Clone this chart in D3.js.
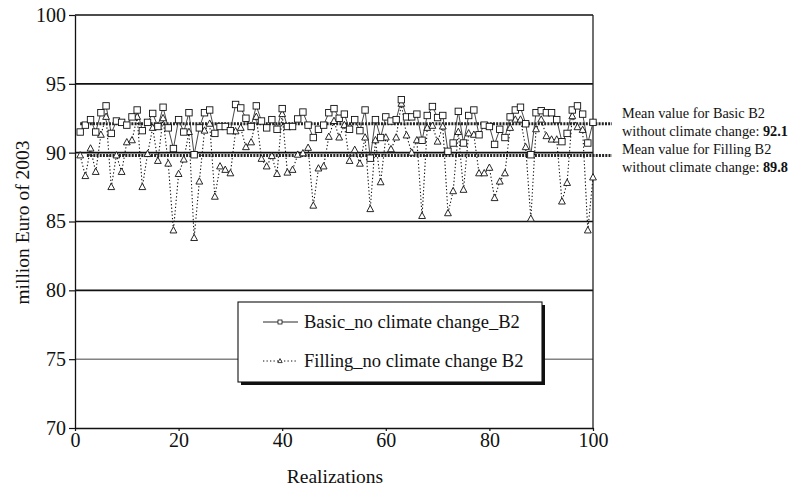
<!DOCTYPE html>
<html>
<head>
<meta charset="utf-8">
<script src="https://cdn.jsdelivr.net/npm/d3@7"></script>
<style>
  html, body { margin: 0; padding: 0; background: #fff; }
</style>
</head>
<body>
<svg id="chart" width="810" height="490"></svg>
<script>
// Realization index 1..100
const realizations = d3.range(1, 101);

// Total cost, million Euro of 2003 — Basic scenario without climate change (B2)
const basicValues = [
  91.5, 92.0, 92.4, 91.5, 92.9, 93.4, 91.4, 92.3, 92.2, 92.0,
  92.6, 93.1, 91.6, 92.2, 92.85, 91.9, 93.3, 91.8, 90.3, 92.4,
  91.5, 92.9, 89.85, 91.8, 92.9, 93.1, 91.4, 91.9, 91.9, 91.6,
  93.5, 93.25, 92.5, 91.9, 93.4, 92.3, 91.8, 92.4, 91.7, 93.2,
  91.9, 91.9, 92.45, 92.95, 92.0, 91.1, 91.7, 92.0, 92.9, 93.2,
  92.5, 92.8, 91.7, 92.4, 91.6, 93.1, 89.6, 92.4, 91.1, 92.6,
  92.3, 92.4, 93.85, 92.6, 92.6, 92.8, 90.9, 92.7, 93.35, 92.55,
  92.7, 90.1, 90.7, 93.0, 90.7, 92.7, 93.1, 91.3, 92.0, 91.9,
  90.6, 91.7, 91.1, 92.6, 93.1, 93.3, 92.1, 89.85, 92.9, 93.05,
  92.9, 92.9, 92.4, 90.8, 91.4, 93.1, 93.4, 92.8, 90.7, 92.2
];

// Filling scenario without climate change (B2)
const fillingValues = [
  89.8, 88.3, 90.3, 88.6, 91.3, 92.6, 87.5, 89.8, 88.6, 90.75,
  90.9, 92.6, 87.5, 89.9, 91.8, 89.4, 92.5, 89.2, 84.35, 88.45,
  89.5, 91.5, 83.8, 87.9, 91.6, 92.1, 86.8, 89.0, 88.75, 88.5,
  91.55, 91.8, 90.4, 90.75, 92.6, 89.55, 89.0, 89.75, 88.45, 92.8,
  88.55, 88.75, 89.85, 89.95, 90.35, 86.15, 88.85, 89.0, 91.15, 92.3,
  91.1, 92.0, 89.4, 90.2, 89.2, 91.1, 85.9, 90.9, 87.85, 91.1,
  90.25, 91.1, 93.55, 91.25, 90.0, 90.9, 85.4, 91.8, 91.95, 90.8,
  91.9, 85.6, 87.2, 91.5, 87.3, 91.4, 91.3, 88.5, 88.5, 88.9,
  86.7, 87.9, 88.5, 91.8, 92.4, 92.4, 90.4, 85.2, 91.7, 92.4,
  91.2, 90.95, 90.95, 86.45, 87.8, 92.65, 91.85, 91.65, 84.35, 88.2
];

// Mean values over all realizations
const meanBasic = 92.1;
const meanFilling = 89.8;

const seriesNames = ["Basic_no climate change_B2", "Filling_no climate change B2"];
const xTicks = [0, 20, 40, 60, 80, 100];
const yTicks = [70, 75, 80, 85, 90, 95, 100];

(function draw() {
  const serif = "'Liberation Serif', 'DejaVu Serif', 'Times New Roman', Times, serif";
  const svg = d3.select("#chart");
  const plotLeft = 75, plotRight = 593, plotTop = 15, plotBottom = 428;

  const x = d3.scaleLinear().domain([0, 100]).range([plotLeft, plotRight]);
  const y = d3.scaleLinear().domain([70, 100]).range([plotBottom, plotTop]);

  // Horizontal grid lines
  svg.append("g").selectAll("line")
    .data(yTicks.filter(v => v > 70))
    .join("line")
    .attr("x1", plotLeft).attr("x2", plotRight)
    .attr("y1", d => y(d)).attr("y2", d => y(d))
    .attr("stroke", d => d === 75 ? "#444" : "#111")
    .attr("stroke-width", d => d === 75 ? 1 : 1.6);

  // Right border of the plot area
  svg.append("line")
    .attr("x1", plotRight).attr("x2", plotRight).attr("y1", plotTop).attr("y2", plotBottom)
    .attr("stroke", "#222").attr("stroke-width", 1.3);

  // Axes
  const yAxis = d3.axisLeft(y).tickValues(yTicks).tickSize(6).tickSizeOuter(0).tickPadding(3);
  const gy = svg.append("g").attr("transform", `translate(${plotLeft},0)`).call(yAxis)
    .attr("font-family", serif).attr("font-size", 20);
  gy.select(".domain").attr("stroke", "#111").attr("stroke-width", 1.3);
  gy.selectAll(".tick line").attr("stroke", "#111").attr("stroke-width", 1.2);
  gy.selectAll(".tick text").attr("fill", "#111");

  const xAxis = d3.axisBottom(x).tickValues(xTicks).tickSize(3).tickSizeOuter(0).tickPadding(2);
  const gx = svg.append("g").attr("transform", `translate(0,${plotBottom})`).call(xAxis)
    .attr("font-family", serif).attr("font-size", 20);
  gx.select(".domain").attr("stroke", "#111").attr("stroke-width", 1.3);
  gx.selectAll(".tick line").attr("stroke", "#111").attr("stroke-width", 1.2);
  gx.selectAll(".tick text").attr("fill", "#111");

  // Axis titles
  svg.append("text")
    .attr("x", (plotLeft + plotRight) / 2 + 1).attr("y", 483)
    .attr("text-anchor", "middle").attr("font-size", 19.5)
    .attr("font-family", serif).attr("fill", "#111")
    .text("Realizations");
  svg.append("text")
    .attr("transform", `translate(29,${(plotTop + plotBottom) / 2 + 1}) rotate(-90)`)
    .attr("text-anchor", "middle").attr("font-size", 19.5)
    .attr("font-family", serif).attr("fill", "#111")
    .text("million Euro of 2003");

  // Mean lines (extend past the plot towards the annotations)
  const meanEnd = x.invert(612);
  svg.append("line")
    .attr("x1", x(1)).attr("x2", x(meanEnd))
    .attr("y1", y(meanBasic)).attr("y2", y(meanBasic))
    .attr("stroke", "#222").attr("stroke-width", 3).attr("stroke-dasharray", "2,1.2");
  svg.append("line")
    .attr("x1", x(2.3)).attr("x2", x(meanEnd))
    .attr("y1", y(meanFilling)).attr("y2", y(meanFilling))
    .attr("stroke", "#222").attr("stroke-width", 3).attr("stroke-dasharray", "2,1.2");

  const line = d3.line().x((d, i) => x(realizations[i])).y(d => y(d));

  // Filling series: dotted line with triangles
  svg.append("path")
    .datum(fillingValues)
    .attr("d", line)
    .attr("fill", "none").attr("stroke", "#111")
    .attr("stroke-width", 1.1).attr("stroke-dasharray", "1.3,2.2");

  // Basic series: solid line with squares
  svg.append("path")
    .datum(basicValues)
    .attr("d", line)
    .attr("fill", "none").attr("stroke", "#333").attr("stroke-width", 0.9);

  const triPath = "M0,-3.8L3.4,2.5L-3.4,2.5Z";
  svg.append("g").selectAll("path")
    .data(fillingValues)
    .join("path")
    .attr("d", triPath)
    .attr("transform", (d, i) => `translate(${x(realizations[i])},${y(d)})`)
    .attr("fill", "#fff").attr("stroke", "#111").attr("stroke-width", 0.9);

  svg.append("g").selectAll("rect")
    .data(basicValues)
    .join("rect")
    .attr("x", (d, i) => x(realizations[i]) - 3.2)
    .attr("y", d => y(d) - 3.2)
    .attr("width", 6.4).attr("height", 6.4)
    .attr("fill", "#fff").attr("stroke", "#111").attr("stroke-width", 0.9);

  // Annotations for the mean values
  const notes = [
    { yPos: 118, parts: [["Mean value for Basic B2", false]] },
    { yPos: 136, parts: [["without climate change: ", false], [String(meanBasic), true]] },
    { yPos: 154, parts: [["Mean value for Filling B2", false]] },
    { yPos: 172, parts: [["without climate change: ", false], [String(meanFilling), true]] }
  ];
  notes.forEach(n => {
    const t = svg.append("text").attr("x", 622).attr("y", n.yPos).attr("font-size", 14.3)
      .attr("font-family", serif).attr("fill", "#111");
    n.parts.forEach(p => t.append("tspan").attr("font-weight", p[1] ? "bold" : "normal").text(p[0]));
  });

  // Legend box with drop shadow
  const lg = svg.append("g");
  lg.append("rect").attr("x", 241).attr("y", 305).attr("width", 304).attr("height", 80).attr("fill", "#111");
  lg.append("rect").attr("x", 238).attr("y", 302).attr("width", 304).attr("height", 80)
    .attr("fill", "#fff").attr("stroke", "#111").attr("stroke-width", 1.1);

  const legendRows = [
    { name: seriesNames[0], yPos: 322, dashed: false, marker: "square" },
    { name: seriesNames[1], yPos: 361, dashed: true, marker: "triangle" }
  ];
  legendRows.forEach(r => {
    lg.append("line").attr("x1", 263).attr("x2", 298).attr("y1", r.yPos).attr("y2", r.yPos)
      .attr("stroke", "#111").attr("stroke-width", r.dashed ? 1 : 0.9)
      .attr("stroke-dasharray", r.dashed ? "1.3,2.2" : null);
    if (r.marker === "square") {
      lg.append("rect").attr("x", 278).attr("y", r.yPos - 2).attr("width", 4).attr("height", 4)
        .attr("fill", "#fff").attr("stroke", "#111").attr("stroke-width", 0.8);
    } else {
      lg.append("path").attr("d", "M0,-2.4L2.2,1.6L-2.2,1.6Z")
        .attr("transform", `translate(280,${r.yPos})`)
        .attr("fill", "#fff").attr("stroke", "#111").attr("stroke-width", 0.8);
    }
    lg.append("text").attr("x", 304).attr("y", r.yPos + 6).attr("font-size", 18.5)
      .attr("font-family", serif).attr("fill", "#111").text(r.name);
  });
})();
</script>
</body>
</html>
